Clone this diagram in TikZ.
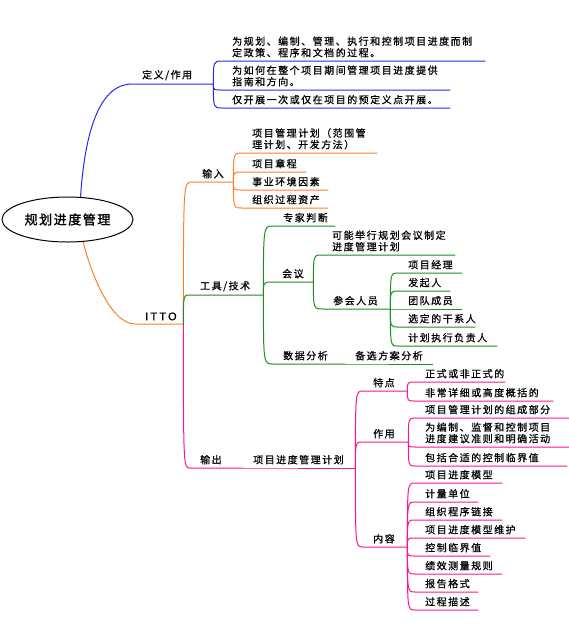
\documentclass[tikz,border=0pt]{standalone}
\usepackage{fontspec}
\newfontfamily\cjk[LetterSpace=15, FakeBold=0.8]{Noto Sans CJK SC}
\newfontfamily\cjkroot[LetterSpace=12, FakeBold=1.6]{Noto Sans CJK SC}
\newfontfamily\latin[LetterSpace=20, FakeBold=1]{Liberation Sans}
\usetikzlibrary{shapes.geometric}

\definecolor{defblue}{RGB}{40,40,245}
\definecolor{ittoorange}{RGB}{255,128,40}
\definecolor{toolgreen}{RGB}{30,140,30}
\definecolor{outpink}{RGB}{255,20,140}

\begin{document}
\begin{tikzpicture}[
    x=1pt, y=-1pt,
    root/.style={
      draw,
      ellipse,
      line width=1pt,
      minimum width=131pt,
      minimum height=45pt,
      inner sep=0pt,
      font=\cjkroot\fontsize{13}{15}\selectfont
    },
    topic/.style={
      anchor=south west,
      inner xsep=10pt,
      inner ysep=3.5pt,
      align=left,
      font=\cjk\fontsize{10}{11.5}\selectfont
    },
    branch/.style={line width=1pt, to path={.. controls (\tikztostart |- \tikztotarget) .. (\tikztotarget)}},
    defline/.style={branch, draw=defblue},
    inline/.style={branch, draw=ittoorange},
    toolline/.style={branch, draw=toolgreen},
    outline/.style={branch, draw=outpink}
  ]
    \useasboundingbox (0,0) rectangle (569,625);

    \node[root] (root) at (67.5,219.5) {规划进度管理};

    % definition
    \node[topic, text width=61pt] (def) at (132,84) {定义/作用};
    \node[topic, text width=243pt] (d1) at (222,61) {为规划、编制、管理、执行和控制项目进度而制\\定政策、程序和文档的过程。};
    \node[topic, text width=208pt] (d2) at (222,90) {为如何在整个项目期间管理项目进度提供\\指南和方向。};
    \node[topic, text width=208pt] (d3) at (222,108) {仅开展一次或仅在项目的预定义点开展。};

    % ITTO
    \node[topic, text width=28pt, font=\latin\fontsize{11}{13}\selectfont] (itto) at (135,324) {ITTO};

    \node[topic, text width=21pt] (input) at (192,182) {输入};
    \node[topic, text width=115pt] (i1) at (242,153) {项目管理计划（范围管\\理计划、开发方法）};
    \node[topic, text width=44pt] (i2) at (242,172) {项目章程};
    \node[topic, text width=66pt] (i3) at (242,190) {事业环境因素};
    \node[topic, text width=66pt] (i4) at (242,208) {组织过程资产};

    \node[topic, text width=53pt] (tools) at (190,295) {工具/技术};
    \node[topic, text width=42pt] (expert) at (273,226) {专家判断};
    \node[topic, text width=21pt] (meet) at (272,282) {会议};
    \node[topic, text width=113pt] (m1) at (322,255) {可能举行规划会议制定\\进度管理计划};
    \node[topic, text width=47pt] (attend) at (323,309) {参会人员};
    \node[topic, text width=44pt] (p1) at (398,273) {项目经理};
    \node[topic, text width=32pt] (p2) at (398,291) {发起人};
    \node[topic, text width=44pt] (p3) at (398,309) {团队成员};
    \node[topic, text width=57pt] (p4) at (398,327) {选定的干系人};
    \node[topic, text width=79pt] (p5) at (398,346) {计划执行负责人};
    \node[topic, text width=52pt] (data) at (273,364) {数据分析};
    \node[topic, text width=68pt] (alt) at (345,364) {备选方案分析};

    \node[topic, text width=33pt] (output) at (190,468) {输出};
    \node[topic, text width=92pt] (plan) at (243,468) {项目进度管理计划};
    \node[topic, text width=24pt] (feat) at (363,391) {特点};
    \node[topic, text width=70pt] (f1) at (415,382) {正式或非正式的};
    \node[topic, text width=118pt] (f2) at (415,401) {非常详细或高度概括的};
    \node[topic, text width=25pt] (use) at (363,442) {作用};
    \node[topic, text width=134pt] (u1) at (415,418) {项目管理计划的组成部分};
    \node[topic, text width=134pt] (u2) at (415,447) {为编制、监督和控制项目\\进度建议准则和明确活动};
    \node[topic, text width=132pt] (u3) at (415,466) {包括合适的控制临界值};
    \node[topic, text width=24pt] (cont) at (363,547) {内容};
    \node[topic, text width=67pt] (c1) at (415,483) {项目进度模型};
    \node[topic, text width=43pt] (c2) at (415,502) {计量单位};
    \node[topic, text width=67pt] (c3) at (415,520) {组织程序链接};
    \node[topic, text width=90pt] (c4) at (415,538) {项目进度模型维护};
    \node[topic, text width=55pt] (c5) at (415,556) {控制临界值};
    \node[topic, text width=67pt] (c6) at (415,574) {绩效测量规则};
    \node[topic, text width=43pt] (c7) at (415,592) {报告格式};
    \node[topic, text width=43pt] (c8) at (415,610) {过程描述};

    \draw[defline] (root.60) .. controls (85,130) and (100,84) .. (def.south west) -- (def.south east);
    \draw[defline] (def.south east) to (d1.south west) -- (d1.south east);
    \draw[defline] (def.south east) to (d2.south west) -- (d2.south east);
    \draw[defline] (def.south east) to (d3.south west) -- (d3.south east);

    \draw[inline] (root.-55) .. controls (90,270) and (110,324) .. (itto.south west) -- (itto.south east);
    \draw[inline] (itto.south east) to (input.south west) -- (input.south east);
    \draw[inline] (input.south east) to (i1.south west) -- (i1.south east);
    \draw[inline] (input.south east) to (i2.south west) -- (i2.south east);
    \draw[inline] (input.south east) to (i3.south west) -- (i3.south east);
    \draw[inline] (input.south east) to (i4.south west) -- (i4.south east);

    \draw[toolline] (itto.south east) to (tools.south west) -- (tools.south east);
    \draw[toolline] (tools.south east) to (expert.south west) -- (expert.south east);
    \draw[toolline] (tools.south east) to (meet.south west) -- (meet.south east);
    \draw[toolline] (tools.south east) to (data.south west) -- (data.south east);
    \draw[toolline] (meet.south east) to (m1.south west) -- (m1.south east);
    \draw[toolline] (meet.south east) to (attend.south west) -- (attend.south east);
    \draw[toolline] (attend.south east) to (p1.south west) -- (p1.south east);
    \draw[toolline] (attend.south east) to (p2.south west) -- (p2.south east);
    \draw[toolline] (attend.south east) to (p3.south west) -- (p3.south east);
    \draw[toolline] (attend.south east) to (p4.south west) -- (p4.south east);
    \draw[toolline] (attend.south east) to (p5.south west) -- (p5.south east);
    \draw[toolline] (data.south east) -- (alt.south west) -- (alt.south east);

    \draw[outline] (itto.south east) to (output.south west) -- (output.south east);
    \draw[outline] (output.south east) -- (plan.south west) -- (plan.south east);
    \draw[outline] (plan.south east) to (feat.south west) -- (feat.south east);
    \draw[outline] (plan.south east) to (use.south west) -- (use.south east);
    \draw[outline] (plan.south east) to (cont.south west) -- (cont.south east);
    \draw[outline] (feat.south east) to (f1.south west) -- (f1.south east);
    \draw[outline] (feat.south east) to (f2.south west) -- (f2.south east);
    \draw[outline] (use.south east) to (u1.south west) -- (u1.south east);
    \draw[outline] (use.south east) to (u2.south west) -- (u2.south east);
    \draw[outline] (use.south east) to (u3.south west) -- (u3.south east);
    \draw[outline] (cont.south east) to (c1.south west) -- (c1.south east);
    \draw[outline] (cont.south east) to (c2.south west) -- (c2.south east);
    \draw[outline] (cont.south east) to (c3.south west) -- (c3.south east);
    \draw[outline] (cont.south east) to (c4.south west) -- (c4.south east);
    \draw[outline] (cont.south east) to (c5.south west) -- (c5.south east);
    \draw[outline] (cont.south east) to (c6.south west) -- (c6.south east);
    \draw[outline] (cont.south east) to (c7.south west) -- (c7.south east);
    \draw[outline] (cont.south east) to (c8.south west) -- (c8.south east);
  \end{tikzpicture}
\end{document}
